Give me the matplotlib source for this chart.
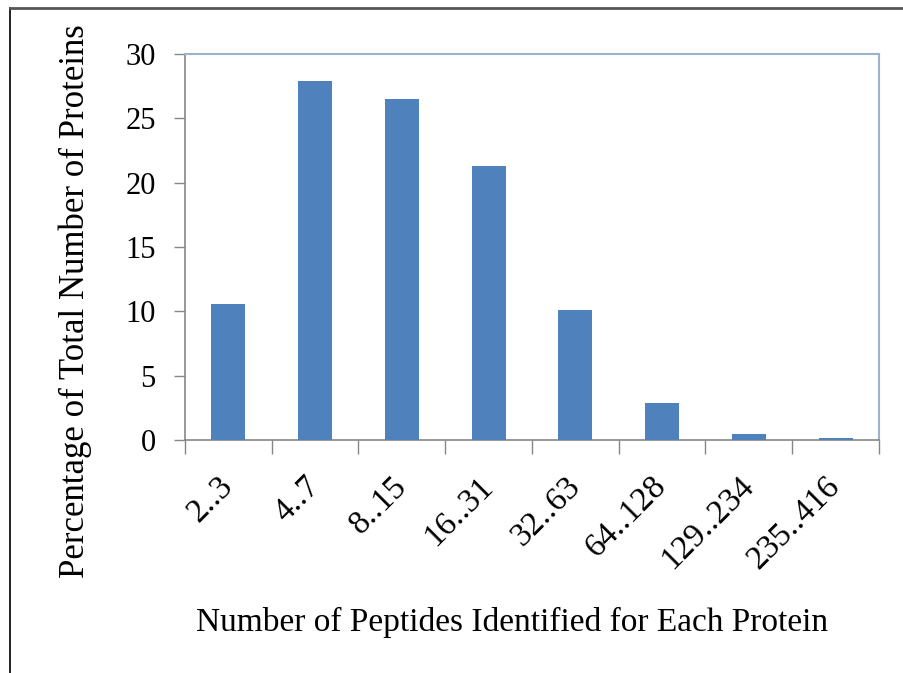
import matplotlib.pyplot as plt
from matplotlib.lines import Line2D

bins = ["2..3", "4..7", "8..15", "16..31", "32..63", "64..128", "129..234", "235..416"]
percent = [10.6, 27.9, 26.5, 21.3, 10.1, 2.85, 0.5, 0.15]

plt.rcParams['font.family'] = ['Liberation Serif', 'DejaVu Serif']

fig = plt.figure(figsize=(9.04, 6.73), dpi=100)
ax = fig.add_axes([0.2046, 0.3462, 0.7677, 0.5736])

x = list(range(len(bins)))
ax.bar(x, percent, width=0.39, color="#4F81BD", zorder=3)

ax.set_xlim(-0.5, len(bins) - 0.5)
ax.set_ylim(0, 30)
ax.set_yticks(range(0, 31, 5))
ax.tick_params(axis='y', labelsize=22, length=8, width=1, color="#868686", pad=13)

# category ticks sit on the bin boundaries, labels on the bin centres
ax.set_xticks([i - 0.5 for i in range(len(bins) + 1)])
ax.set_xticklabels([])
ax.tick_params(axis='x', length=10, width=1, color="#868686")
ax.set_xticks(x, minor=True)
ax.set_xticklabels(bins, minor=True, rotation=45, ha='right', va='center',
                   rotation_mode='anchor', fontsize=24)
ax.tick_params(axis='x', which='minor', length=0, pad=30)

for side in ['left', 'bottom']:
    ax.spines[side].set_color("#868686")
    ax.spines[side].set_linewidth(1.2)
for side in ['top', 'right']:
    ax.spines[side].set_color("#9DB2CC")
    ax.spines[side].set_linewidth(1.5)

fig.text(75 / 904, 1 - 301 / 673, "Percentage of Total Number of Proteins",
         rotation=90, ha='center', va='center', fontsize=25)
fig.text(512 / 904, 1 - 622 / 673, "Number of Peptides Identified for Each Protein",
         ha='center', va='center', fontsize=24)

# page edge lines
fig.add_artist(Line2D([10 / 904, 10 / 904], [0, 1 - 8 / 673], color="#111111", lw=1.3))
fig.add_artist(Line2D([10 / 904, 1], [1 - 8 / 673, 1 - 8 / 673], color="#555555", lw=2))

fig.savefig("out.png", dpi=100)
